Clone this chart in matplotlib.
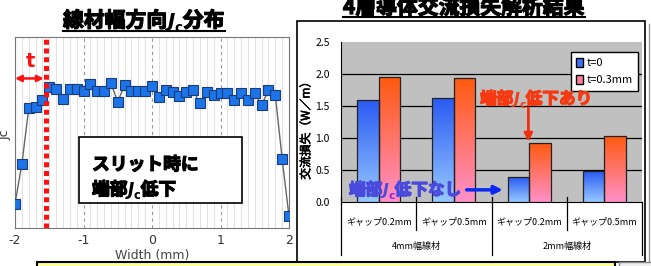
import matplotlib
matplotlib.use("Agg")
import matplotlib.pyplot as plt
import matplotlib.transforms as mtransforms
import matplotlib.patheffects as pe
from matplotlib.patches import Rectangle, Patch
from matplotlib.colors import LinearSegmentedColormap
import numpy as np

JP = ["Noto Sans CJK JP", "DejaVu Sans"]
NARROW = ["Liberation Sans Narrow", "Noto Sans CJK JP", "DejaVu Sans"]

# left chart: Jc profile across the tape width
width_mm = [-2.0, -1.9, -1.8, -1.7, -1.6, -1.5, -1.4, -1.3, -1.2, -1.1, -1.0,
            -0.9, -0.8, -0.7, -0.6, -0.5, -0.4, -0.3, -0.2, -0.1, 0.0,
            0.1, 0.2, 0.3, 0.4, 0.5, 0.6, 0.7, 0.8, 0.9, 1.0,
            1.1, 1.2, 1.3, 1.4, 1.5, 1.6, 1.7, 1.8, 1.9, 2.0]
jc = [0.127, 0.334, 0.626, 0.631, 0.670, 0.736, 0.730, 0.677, 0.729, 0.730, 0.717,
      0.753, 0.717, 0.718, 0.757, 0.661, 0.748, 0.718, 0.718, 0.715, 0.744,
      0.687, 0.722, 0.713, 0.692, 0.710, 0.722, 0.652, 0.710, 0.696, 0.708,
      0.708, 0.670, 0.708, 0.670, 0.708, 0.642, 0.722, 0.696, 0.362, 0.061]
slit_edge = -1.55
x_ticks = [-2, -1, 0, 1, 2]

# right chart: AC loss of 4-layer conductor
gap_labels = ["ギャップ0.2mm", "ギャップ0.5mm", "ギャップ0.2mm", "ギャップ0.5mm"]
group_labels = ["4mm幅線材", "2mm幅線材"]
loss_t0 = [1.59, 1.62, 0.39, 0.48]
loss_t03 = [1.95, 1.93, 0.92, 1.03]
series_names = ["t=0", "t=0.3mm"]
y_ticks = [0.0, 0.5, 1.0, 1.5, 2.0, 2.5]

W, H = 651, 266
fig = plt.figure(figsize=(W / 100, H / 100), dpi=100)
PIX = mtransforms.Affine2D().scale(1 / W, -1 / H).translate(0, 1) + fig.transFigure
renderer = fig.canvas.get_renderer()


def px_axes(x0, y0, x1, y1):
    return fig.add_axes([x0 / W, 1 - y1 / H, (x1 - x0) / W, (y1 - y0) / H])


def bold(color, w=0.9):
    # CJK font has no bold face here, so thicken the glyphs with a stroke
    return [pe.withStroke(linewidth=w, foreground=color)]


def rich_text(x, y, parts, **common):
    for s, kw in parts:
        kw = dict(kw)
        dy = kw.pop("dy", 0)
        opts = dict(common)
        opts.update(kw)
        t = fig.text(x, y + dy, s, transform=PIX, va="baseline", ha="left", **opts)
        x += t.get_window_extent(renderer).width
    return x


def jc_parts(before, after, size, color, sub_color=None):
    cjk = dict(family=JP, fontsize=size, weight="bold", color=color,
               path_effects=bold(color))
    return [
        (before, cjk),
        ("J", dict(family="DejaVu Sans", style="italic", fontsize=size * 0.95,
                   weight="bold", color=color)),
        ("c", dict(family="DejaVu Sans", fontsize=size * 0.65, weight="bold",
                   color=sub_color or color, dy=size * 0.35)),
        (after, cjk),
    ]


# ---------------- left chart ----------------
ax1 = px_axes(15, 37, 289, 228)
ax1.plot(width_mm, jc, color="#666666", lw=1, marker="s", ms=7,
         mfc="#1C74E8", mec="#1A3C78", mew=0.8, zorder=3)
ax1.set_xlim(-2, 2)
ax1.set_ylim(0, 1)
ax1.set_xticks(x_ticks)
ax1.set_xticklabels([str(v) for v in x_ticks])
ax1.set_xticks(np.round(np.arange(-2, 2.01, 0.1), 1), minor=True)
ax1.set_yticks([])
ax1.grid(True, which="minor", axis="x", color="#e2e2e2", lw=0.8)
ax1.grid(True, which="major", axis="x", color="#999999", lw=0.8, ls=(0, (3, 3)))
ax1.set_axisbelow(True)
ax1.tick_params(axis="x", which="both", length=0, pad=4, labelsize=9, labelcolor="#333333")
ax1.set_xlabel("Width (mm)", fontsize=9, color="#444444", labelpad=2)
for sp in ax1.spines.values():
    sp.set_color("#777777")
ax1.axvline(slit_edge, color="#FF1010", lw=3.6, ls=(0, (1.0, 0.75)), zorder=4)
ax1.annotate("", xy=(-2.0, 0.783), xytext=(slit_edge - 0.03, 0.783),
             arrowprops=dict(arrowstyle="<|-|>", color="#FF1010", lw=1.8,
                             mutation_scale=9, shrinkA=0, shrinkB=0), annotation_clip=False)
ax1.text(-1.78, 0.845, "t", color="#FF1010", fontsize=14, weight="bold",
         ha="center", va="baseline", family="DejaVu Sans")
ax1.add_patch(Rectangle((0.234, 0.131), 0.594, 0.345, transform=ax1.transAxes,
                        facecolor="white", edgecolor="black", lw=1.2, zorder=5))
fig.text(5, 135, "Jc", transform=PIX, rotation=90, fontsize=9, color="#333333",
         ha="center", va="center")

# left title
x_end = rich_text(63, 27, jc_parts("線材幅方向", "分布", 15, "black"))
fig.add_artist(plt.Line2D([63, x_end], [31, 31], transform=PIX, color="black", lw=1.5))

# text inside box
fig.text(92, 170, "スリット時に", transform=PIX, family=JP, fontsize=12.8,
         weight="bold", va="baseline", zorder=6, path_effects=bold("black"))
rich_text(92, 195, jc_parts("端部", "低下", 12.8, "black"), zorder=6)

# ---------------- right chart ----------------
fig.add_artist(Rectangle((297, 21), 348, 241, transform=PIX, facecolor="white",
                         edgecolor="black", lw=1.2, zorder=-1))
fig.add_artist(plt.Line2D([649, 649], [24, 266], transform=PIX, color="#999999", lw=1))

ax2 = px_axes(341, 42, 642, 202)
ax2.set_facecolor("#C0C0C0")
pos = np.arange(len(gap_labels))
bw = 0.287
bars0 = ax2.bar(pos - bw / 2, loss_t0, bw, edgecolor="#222222", lw=0.9, zorder=3)
bars1 = ax2.bar(pos + bw / 2, loss_t03, bw, edgecolor="#222222", lw=0.9, zorder=3)


def gradient_fill(bars, top, bottom):
    cmap = LinearSegmentedColormap.from_list("g", [bottom, top])
    grad = np.linspace(0, 1, 64).reshape(-1, 1)
    for b in bars:
        x0, w, h = b.get_x(), b.get_width(), b.get_height()
        im = ax2.imshow(grad, extent=(x0, x0 + w, 0, h), origin="lower", cmap=cmap,
                        aspect="auto", zorder=2.9)
        im.set_clip_path(b)
        b.set_facecolor("none")


gradient_fill(bars0, "#2B5BF2", "#96C8FF")
gradient_fill(bars1, "#FF5A10", "#FF90C8")

ax2.set_xlim(-0.5, 3.5)
ax2.set_ylim(0, 2.5)
ax2.set_yticks(y_ticks)
ax2.set_yticklabels([f"{v:.1f}" for v in y_ticks], family=NARROW)
ax2.set_xticks([])
ax2.tick_params(axis="y", length=0, pad=8, labelsize=7.5)
for v in y_ticks[1:-1]:
    ax2.axhline(v, color="black", lw=0.9, zorder=1)
for side in ["top", "right"]:
    ax2.spines[side].set_visible(False)
ax2.spines["left"].set_color("black")
ax2.spines["bottom"].set_color("black")

legend = ax2.legend([Patch(facecolor="#3D70F8", edgecolor="black"),
                     Patch(facecolor="#FF7C9C", edgecolor="black")],
                    series_names, loc="upper right", bbox_to_anchor=(0.987, 0.9375),
                    fancybox=False, framealpha=1, edgecolor="black",
                    prop=dict(family=NARROW, size=8), handlelength=0.6,
                    handleheight=0.9, handletextpad=0.3, borderpad=0.5,
                    labelspacing=0.6, borderaxespad=0)
legend.get_frame().set_linewidth(1)

# category axis below the plot
blend = mtransforms.blended_transform_factory(ax2.transData, ax2.transAxes)
for i, lab in enumerate(gap_labels):
    ax2.text(i, -0.125, lab, transform=blend, ha="center", va="center",
             family=NARROW, fontsize=6.5)
for i, lab in enumerate(group_labels):
    ax2.text(2 * i + 0.5, -0.28, lab, transform=blend, ha="center", va="center",
             family=NARROW, fontsize=6.5)
for xb, y_low in [(0.5, -0.175), (2.5, -0.175), (1.5, -0.33), (-0.5, -0.33), (3.5, -0.33)]:
    ax2.plot([xb, xb], [0.031 if xb != 3.5 else 0, y_low], transform=blend,
             color="black", lw=0.9, clip_on=False)

ax2.annotate("", xy=(1.99, 0.94), xytext=(1.99, 1.47),
             arrowprops=dict(arrowstyle="-|>", color="#F03010", lw=2,
                             mutation_scale=12, shrinkA=0, shrinkB=0))
ax2.annotate("", xy=(1.65, 0.19), xytext=(1.17, 0.19),
             arrowprops=dict(arrowstyle="-|>", color="#0A28F0", lw=2.5,
                             mutation_scale=12, shrinkA=0, shrinkB=0))

rich_text(480, 104, jc_parts("端部", "低下あり", 12, "#F53A12"), zorder=6)
rich_text(349, 195, jc_parts("端部", "低下なし", 12, "#4A4ADC", "#8A2BE2"), zorder=6)

fig.text(306, 128, "交流損失（W／m）", transform=PIX, rotation=90, family=JP,
         fontsize=8.5, ha="center", va="center", path_effects=bold("black", 0.4))

# right title
x_end = rich_text(343, 14, [("4層導体交流損失解析結果",
                             dict(family=JP, fontsize=15, weight="bold",
                                  path_effects=bold("black")))])
fig.add_artist(plt.Line2D([343, x_end], [17, 17], transform=PIX, color="black", lw=1.5))

# strip of the next slide element at the bottom
fig.add_artist(Rectangle((37, 262), 578, 12, transform=PIX, facecolor="#FFFF99",
                         edgecolor="black", lw=1.5, zorder=7))
fig.add_artist(Rectangle((619, 262), 40, 12, transform=PIX, facecolor="#EEEEEE",
                         edgecolor="#888888", lw=1, zorder=7))

fig.savefig("out.png", dpi=100)
